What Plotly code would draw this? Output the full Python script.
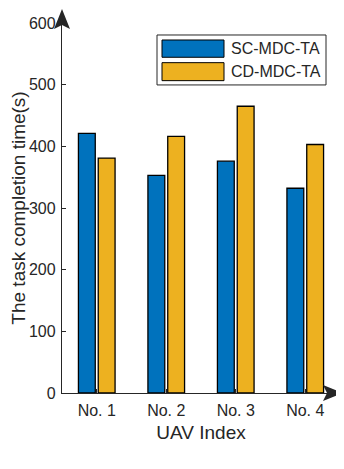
import plotly.graph_objects as go

uav = ['No. 1', 'No. 2', 'No. 3', 'No. 4']
sc_mdc_ta = [421, 353, 376, 332]
cd_mdc_ta = [381, 416, 465, 403]

# page body has an 8px margin, so work in figure coords = window coords - 8
OFF = 8
W, H = 344 - OFF, 469 - OFF
L, T = 62 - OFF, 23 - OFF
R = W - (340 - OFF)
B = H - (393.3 - OFF)
ink = '#262626'
blue = '#0072BD'
gold = '#EDB120'


def px(x):
    return (x - OFF - L) / (W - L - R)


def py(y):
    return (H - B - (y - OFF)) / (H - B - T)


fig = go.Figure()
fig.add_trace(go.Bar(x=uav, y=sc_mdc_ta, name='SC-MDC-TA',
                     marker=dict(color=blue, line=dict(color='black', width=1.3))))
fig.add_trace(go.Bar(x=uav, y=cd_mdc_ta, name='CD-MDC-TA',
                     marker=dict(color=gold, line=dict(color='black', width=1.3))))

fig.update_layout(
    width=W, height=H,
    margin=dict(l=L, r=R, t=T, b=B),
    plot_bgcolor='white', paper_bgcolor='white',
    barmode='group', bargap=0.43, bargroupgap=0.15,
    showlegend=False,
    font=dict(family='Liberation Sans, Arial', size=16, color=ink),
)
fig.update_xaxes(range=[-0.5, 3.5], showline=True, linecolor=ink, linewidth=1.3,
                 ticks='inside', ticklen=4, tickcolor=ink, tickwidth=1,
                 ticklabelstandoff=3, showgrid=False, zeroline=False,
                 title=dict(text='UAV Index', standoff=7), automargin=False)
fig.update_yaxes(range=[0, 600], dtick=100, showline=True, linecolor=ink, linewidth=1.3,
                 ticks='inside', ticklen=4, tickcolor=ink, tickwidth=1,
                 ticklabelstandoff=2, showgrid=False, zeroline=False,
                 title=dict(text='The task completion time(s)'), automargin=False)

# axis arrowheads
fig.add_shape(type='path', xref='paper', yref='paper', xsizemode='pixel', ysizemode='pixel',
              xanchor=0, yanchor=1, path='M0,14 L-8,-6 L0,-2 L8,-6 Z',
              fillcolor=ink, line=dict(width=0))
fig.add_shape(type='path', xref='paper', yref='paper', xsizemode='pixel', ysizemode='pixel',
              xanchor=1, yanchor=0, path='M3,0 L-17,8 L-13,0 L-17,-8 Z',
              fillcolor=ink, line=dict(width=0))

# legend box
fig.add_shape(type='rect', xref='paper', yref='paper', x0=px(157), x1=px(326), y0=py(85), y1=py(35),
              line=dict(color=ink, width=1), fillcolor='white')
for name, col, y0, y1 in [('SC-MDC-TA', blue, 40, 57.3), ('CD-MDC-TA', gold, 62.7, 80.7)]:
    fig.add_shape(type='rect', xref='paper', yref='paper', x0=px(162), x1=px(224),
                  y0=py(y1), y1=py(y0), line=dict(color='black', width=1), fillcolor=col)
    fig.add_annotation(text=name, xref='paper', yref='paper', x=px(229), y=py((y0 + y1) / 2),
                       xanchor='left', yanchor='middle', showarrow=False,
                       font=dict(size=16, color=ink))

fig.write_html('out.html')
